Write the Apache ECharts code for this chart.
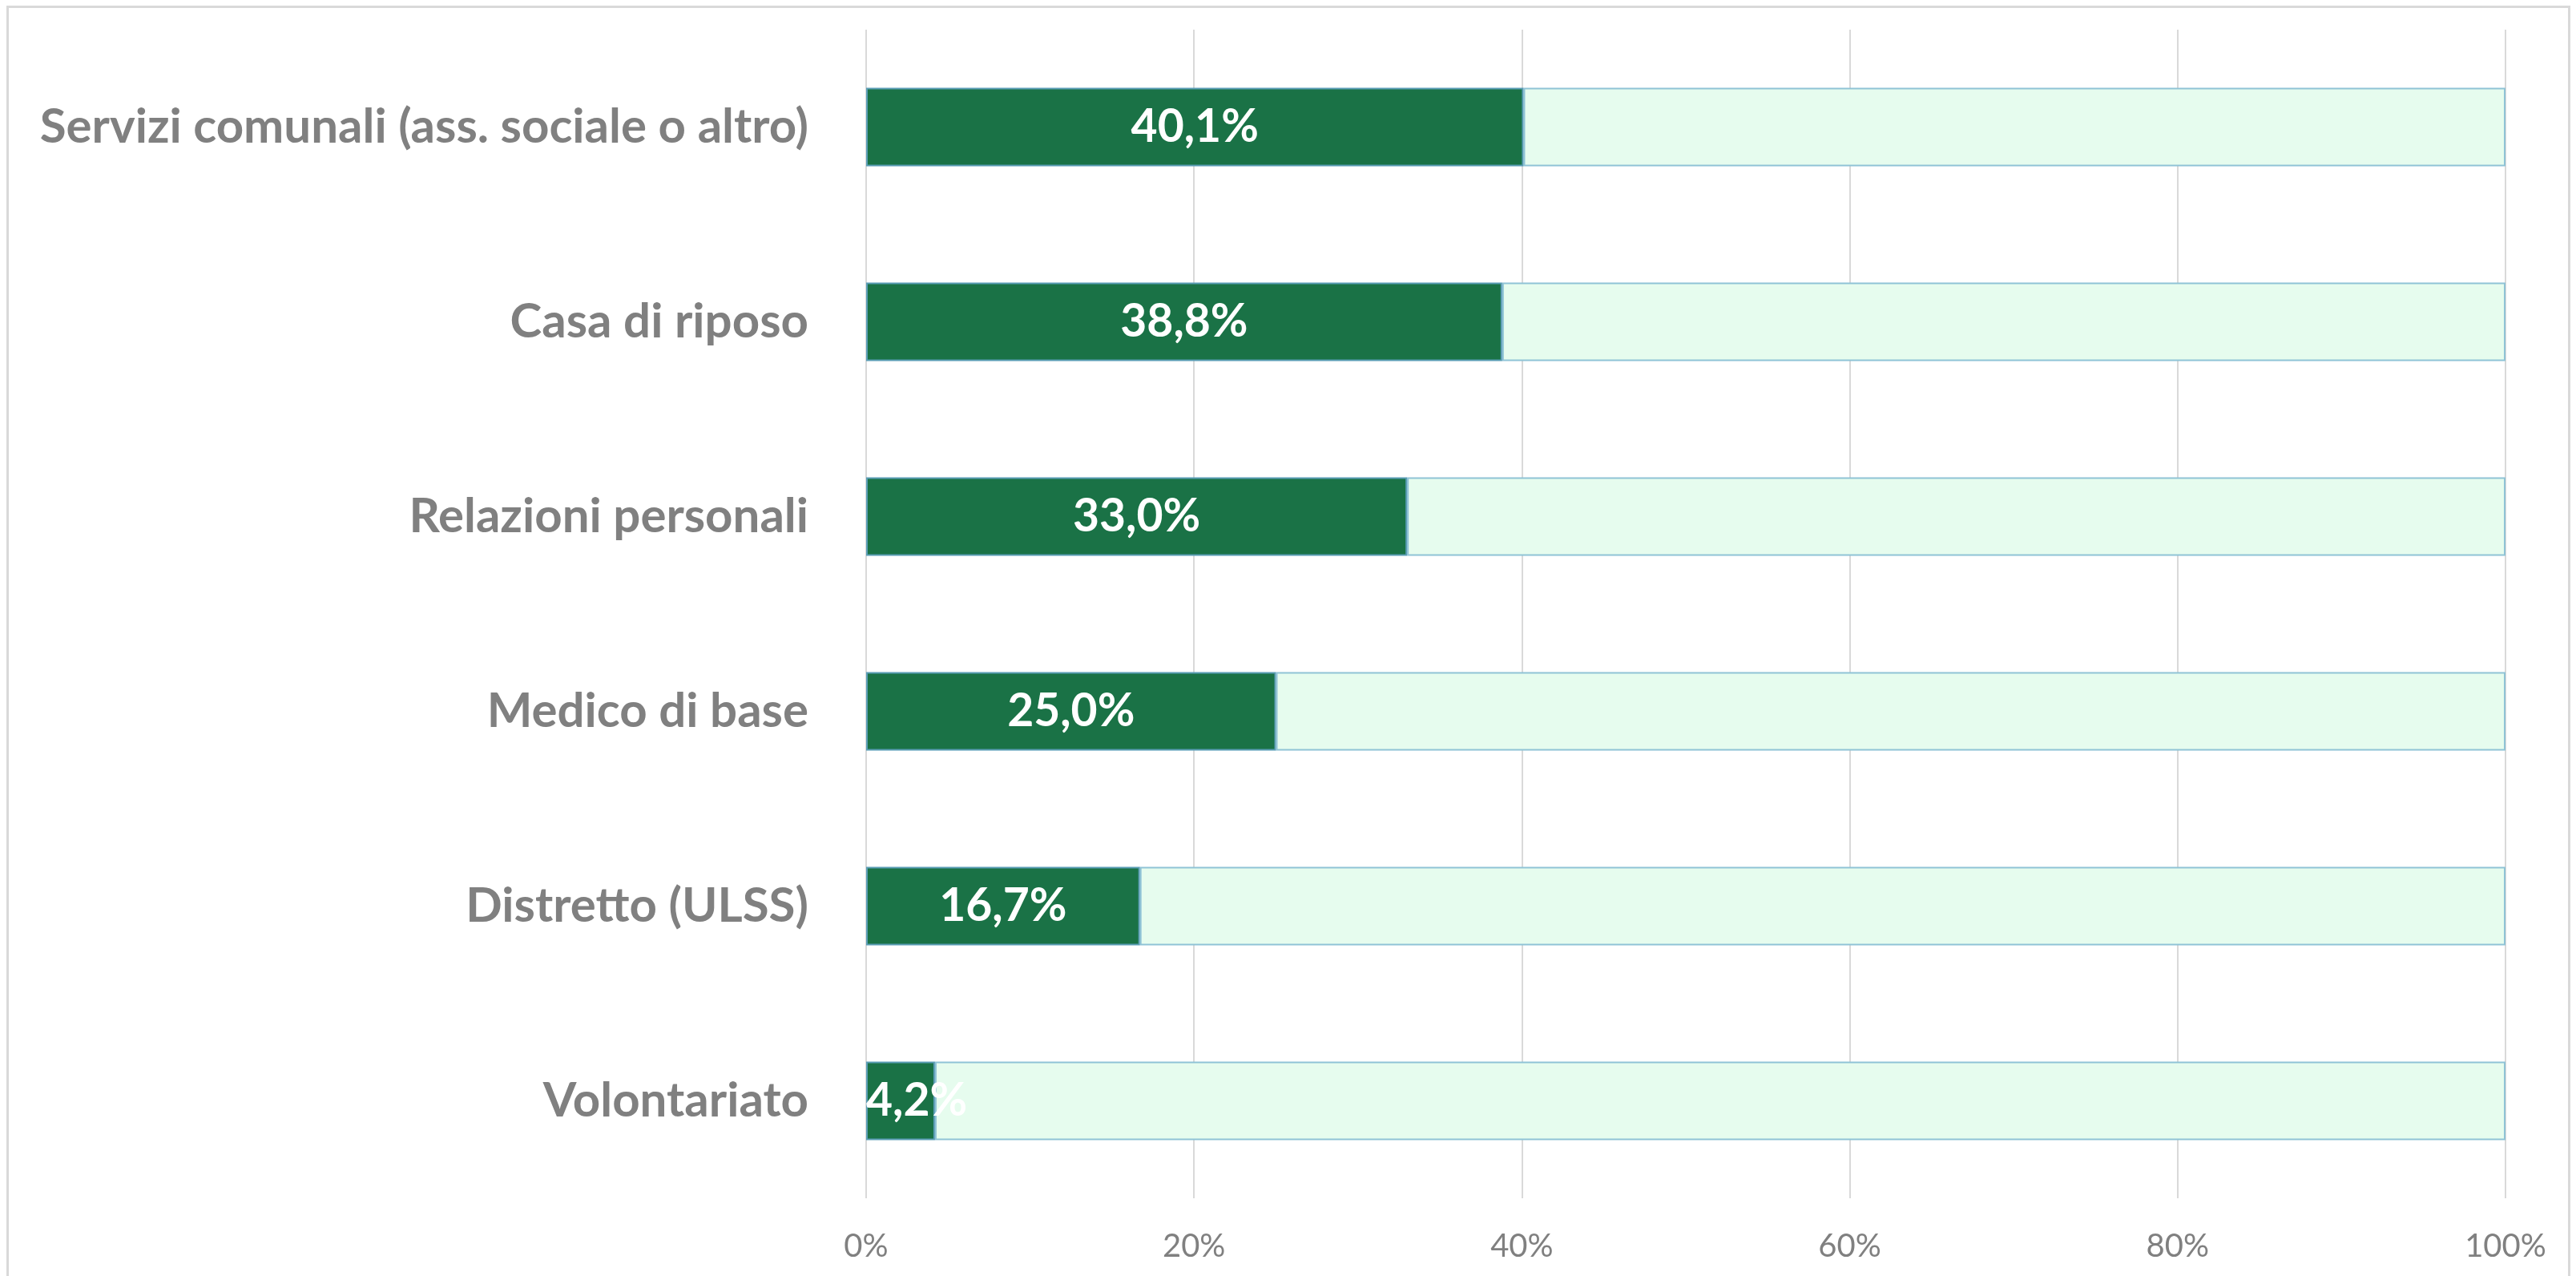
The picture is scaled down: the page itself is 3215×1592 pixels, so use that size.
<!DOCTYPE html>
<html>
<head>
<meta charset="utf-8">
<script src="https://cdn.jsdelivr.net/npm/echarts@6/dist/echarts.min.js"></script>
<style>
html,body{margin:0;padding:0;background:#fff;}
#frame{position:absolute;left:8px;top:7px;width:3200px;height:1600px;border:3px solid #d9d9d9;box-sizing:border-box;}
#chart{position:absolute;left:0;top:0;width:3215px;height:1592px;}
</style>
</head>
<body>
<div id="frame"></div>
<div id="chart"></div>
<script>
const categories = [
  "Servizi comunali (ass. sociale o altro)",
  "Casa di riposo",
  "Relazioni personali",
  "Medico di base",
  "Distretto (ULSS)",
  "Volontariato"
];
const values = [40.1, 38.8, 33.0, 25.0, 16.7, 4.2];
const axisTicks = [0, 20, 40, 60, 80, 100];

const remainder = values.map(v => +(100 - v).toFixed(1));
const fmt = v => v.toFixed(1).replace('.', ',') + '%';

const chart = echarts.init(document.getElementById('chart'), null, {renderer: 'canvas'});
chart.setOption({
  backgroundColor: 'transparent',
  animation: false,
  grid: {left: 1081, right: 88, top: 37, bottom: 97, containLabel: false},
  xAxis: {
    type: 'value',
    min: axisTicks[0],
    max: axisTicks[axisTicks.length - 1],
    interval: axisTicks[1] - axisTicks[0],
    axisLine: {show: false},
    axisTick: {show: false},
    splitLine: {show: true, lineStyle: {color: '#d9d9d9', width: 2}},
    axisLabel: {
      formatter: v => v + '%',
      color: '#808080',
      fontFamily: 'Lato',
      fontSize: 40,
      margin: 40
    }
  },
  yAxis: {
    type: 'category',
    data: categories,
    inverse: true,
    axisLine: {show: false},
    axisTick: {show: false},
    splitLine: {show: false},
    axisLabel: {
      color: '#808080',
      fontFamily: 'Lato',
      fontWeight: 'bold',
      fontSize: 60,
      margin: 72
    }
  },
  series: [
    {
      type: 'bar',
      stack: 'total',
      barWidth: 98,
      data: values.map((v, i) => ({
        value: v,
        label: v < 8 ? {position: 'insideLeft', distance: 0} : undefined
      })),
      itemStyle: {color: '#1a7246', borderColor: '#5a9db5', borderWidth: 2},
      label: {
        show: true,
        position: 'inside',
        formatter: p => fmt(p.value),
        color: '#ffffff',
        fontFamily: 'Lato',
        fontWeight: 'bold',
        fontSize: 57
      },
      z: 3
    },
    {
      type: 'bar',
      stack: 'total',
      barWidth: 98,
      data: remainder,
      itemStyle: {color: '#e6fcee', borderColor: '#8fc3d6', borderWidth: 2},
      label: {show: false},
      z: 2
    }
  ]
});
</script>
</body>
</html>
